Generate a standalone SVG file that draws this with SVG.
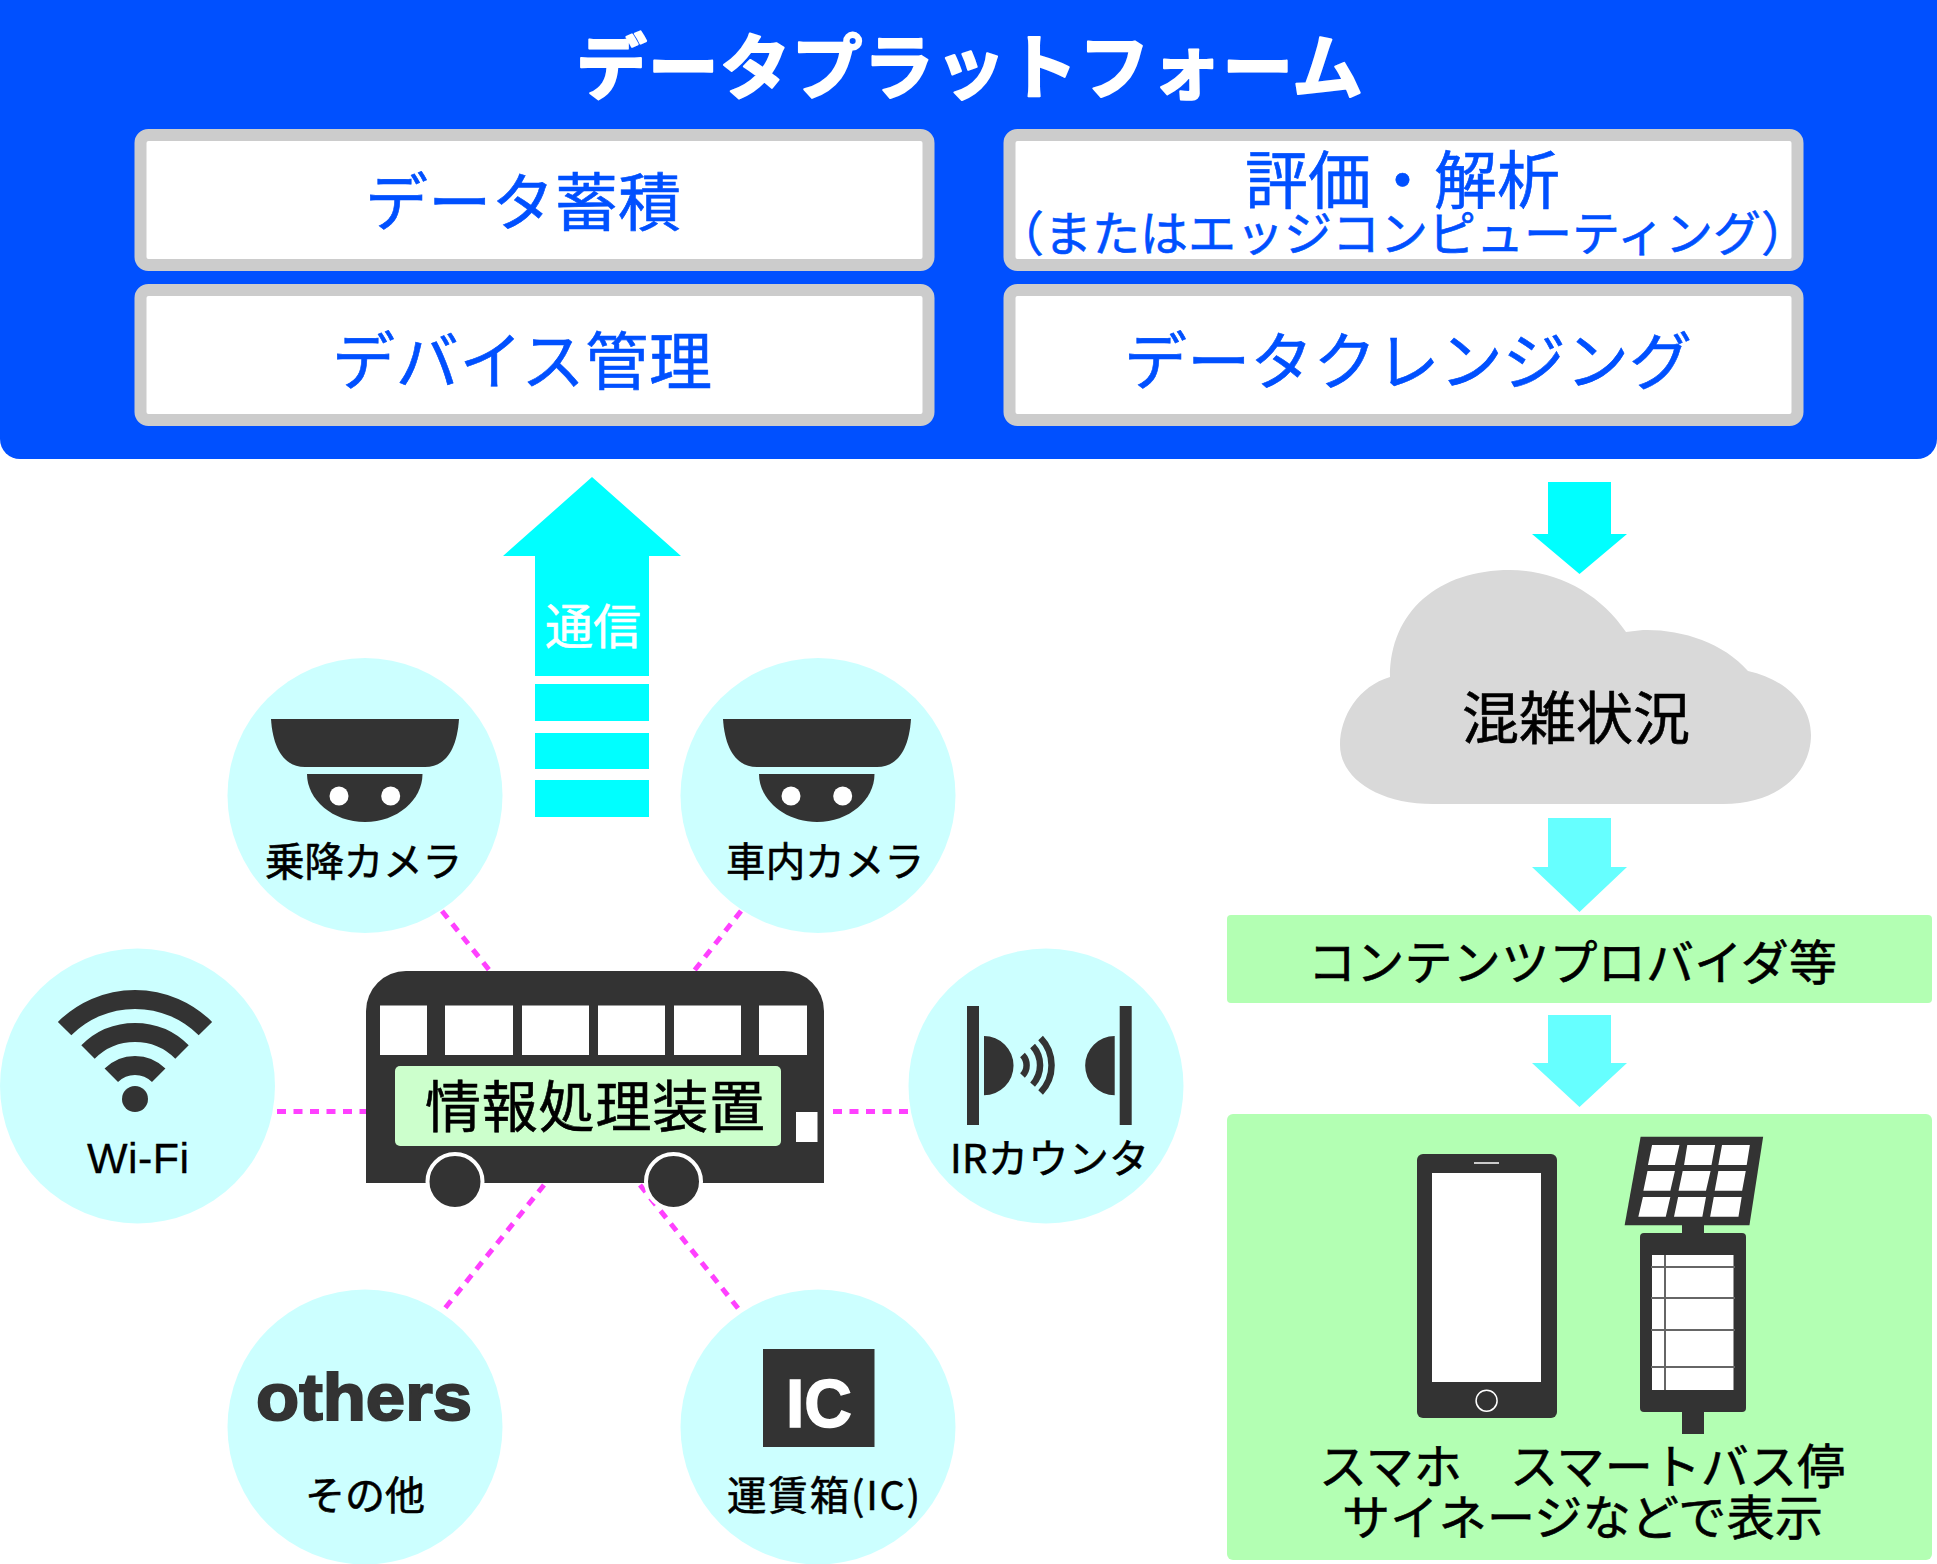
<svg xmlns="http://www.w3.org/2000/svg" width="1937" height="1564" viewBox="0 0 1937 1564">
<style>
text{font-family:"Noto Sans CJK JP","Noto Sans",sans-serif;fill:#000;stroke:#000;stroke-width:.6}
.t{fill:#0050ff;stroke:#0050ff}
.tw{fill:#fff;stroke:#fff}
.b{fill:#0050ff}.w{fill:#fff}.d{fill:#333}.c{fill:#cff}.g{fill:#b3ffb3}
.box{fill:#fff;stroke:#ccc;stroke-width:12}
.dash{stroke:#ff40ff;stroke-width:5;stroke-dasharray:9 7.500;fill:none}
.wave{fill:none;stroke:#333;stroke-linecap:butt}
.lat{font-family:"Liberation Sans",sans-serif;stroke-width:.3}
.gl{stroke:#666;stroke-width:2;fill:none}
</style>
<g id="connectors">
<path class="dash" d="M442 911L490 971"/>
<path class="dash" d="M741 911L694 971"/>
<path class="dash" d="M277 1111.500H366"/>
<path class="dash" d="M833 1111.500H910"/>
<path class="dash" d="M544 1185L442 1312"/>
<path class="dash" d="M640 1185L741 1312"/>
</g>
<g id="platform">
<path class="b" d="M0 0H1937V439A20 20 0 0 1 1917 459H20A20 20 0 0 1 0 439Z"/>
<text class="tw" x="576" y="93" font-size="71" font-weight="700" style="stroke-width:2;stroke-linejoin:round" textLength="787">データプラットフォーム</text>
</g>
<g id="n-store"><rect class="box" x="140.500" y="135" width="788" height="130" rx="8"/><text class="t" x="365" y="225" font-size="63" textLength="316">データ蓄積</text></g>
<g id="n-device"><rect class="box" x="140.500" y="290" width="788" height="130" rx="8"/><text class="t" x="332" y="384" font-size="63" textLength="380">デバイス管理</text></g>
<g id="n-eval"><rect class="box" x="1009.500" y="135" width="788" height="130" rx="8"/><text class="t" x="1245" y="203" font-size="63" textLength="315">評価・解析</text><text class="t" x="996" y="251" font-size="48" textLength="813">（またはエッジコンピューティング）</text></g>
<g id="n-clean"><rect class="box" x="1009.500" y="290" width="788" height="130" rx="8"/><text class="t" x="1124" y="384" font-size="63" textLength="568">データクレンジング</text></g>
<g id="n-comm">
<path fill="#0ff" d="M592 477L681 556H649V676H535V556H503Z"/>
<rect fill="#0ff" x="535" y="684" width="114" height="37"/><rect fill="#0ff" x="535" y="733" width="114" height="36"/><rect fill="#0ff" x="535" y="780" width="114" height="37"/>
<text class="tw" x="545" y="644" font-size="48" textLength="96">通信</text>
</g>
<g id="a1"><path fill="#0ff" d="M1548 482H1611V534H1627L1579.500 574L1532 534H1548Z"/></g>
<g id="n-cloud">
<path fill="#d9d9d9" d="M1433 804H1723C1779 804 1811 772 1811 735C1811 704 1785 679 1748 671C1723 642 1680 629 1643 630L1626 632C1600 593 1556 570 1510 570C1439 570 1390 611 1390 677C1359 686 1340 716 1340 745C1340 778 1378 804 1433 804Z"/>
<text x="1462" y="739" font-size="57" textLength="228">混雑状況</text>
</g>
<g id="a2"><path fill="#6ff" d="M1548 818H1611V867H1627L1579.500 912L1532 867H1548Z"/></g>
<g id="n-cp"><rect class="g" x="1227" y="915" width="705" height="88" rx="4"/><text x="1308" y="980" font-size="48" textLength="529">コンテンツプロバイダ等</text></g>
<g id="a3"><path fill="#6ff" d="M1548 1015H1611V1063H1627L1579.500 1107L1532 1063H1548Z"/></g>
<g id="n-display">
<rect class="g" x="1227" y="1114" width="705" height="446" rx="6"/>
<rect class="d" x="1417" y="1154" width="140" height="264" rx="6"/>
<rect class="w" x="1432" y="1173" width="109" height="209"/>
<path d="M1474 1163H1499" stroke="#fff" stroke-width="1.500"/>
<circle cx="1486.600" cy="1400.700" r="10.500" fill="none" stroke="#fff" stroke-width="1.500"/>
<g transform="translate(1220 1100) scale(.4572 .33333)">
<path class="d" d="M920 110H1188L1158 376H885Z"/>
<path class="w" d="M945 135H1005L995 195H936ZM1022 135H1083L1075 195H1015ZM1098 135H1159L1152 195H1090ZM935 213H995L985 272H926ZM1012 213H1073L1063 272H1003ZM1090 213H1150L1142 272H1082ZM925 291H985L975 350H915ZM1002 291H1063L1055 350H993ZM1080 291H1141L1134 350H1072Z"/>
</g>
<rect class="d" x="1682" y="1225" width="22" height="209"/>
<rect class="d" x="1640" y="1233" width="106" height="179" rx="4"/>
<rect class="w" x="1652" y="1255" width="81.500" height="135"/>
<path class="gl" d="M1651 1267H1735M1651 1298H1735M1651 1330H1735M1651 1367H1735M1665 1255V1390"/>
<text x="1319" y="1484" font-size="48" textLength="526">スマホ　スマートバス停</text>
<text x="1342" y="1535" font-size="48" textLength="481">サイネージなどで表示</text>
</g>
<g id="n-cam1">
<circle class="c" cx="365" cy="795.500" r="137.500"/>
<path class="d" d="M271 719H459C457 750 445 767 425 767H305C285 767 273 750 271 719Z"/>
<path class="d" d="M307 774H422.500C422.500 800 397 822 365 822C333 822 307 800 307 774Z"/>
<circle class="w" cx="339" cy="796" r="9.500"/><circle class="w" cx="390.700" cy="796" r="9.500"/>
<text x="265" y="876" font-size="39.500" textLength="197">乗降カメラ</text>
</g>
<g id="n-cam2">
<circle class="c" cx="818" cy="795.500" r="137.500"/>
<path class="d" d="M723 719H911C909 750 897 767 877 767H757C737 767 725 750 723 719Z"/>
<path class="d" d="M759 774H874.500C874.500 800 849 822 817 822C785 822 759 800 759 774Z"/>
<circle class="w" cx="791" cy="796" r="9.500"/><circle class="w" cx="842.700" cy="796" r="9.500"/>
<text x="726" y="876" font-size="39.500" textLength="198">車内カメラ</text>
</g>
<g id="n-wifi">
<circle class="c" cx="137.500" cy="1086" r="137.500"/>
<path class="wave" stroke-width="19" d="M64.600 1028.600A99.500 99.500 0 0 1 205.400 1028.600M88 1052A66.500 66.500 0 0 1 182 1052M111.300 1075.300A33.500 33.500 0 0 1 158.700 1075.300"/>
<circle class="d" cx="135" cy="1099" r="13"/>
<text class="lat" x="87" y="1173" font-size="43" textLength="102">Wi-Fi</text>
</g>
<g id="n-ir">
<circle class="c" cx="1046" cy="1086" r="137.500"/>
<rect class="d" x="967" y="1006" width="12" height="119"/><rect class="d" x="1119.700" y="1006" width="12" height="119"/>
<path class="d" d="M984 1036A29.600 29.600 0 0 1 984 1095.200ZM1114.700 1036A29.600 29.600 0 0 0 1114.700 1095.200Z"/>
<path class="wave" stroke-width="6.500" d="M1022.500 1055A15 15 0 0 1 1022.500 1075.600M1032.600 1046A28.700 28.700 0 0 1 1032.600 1084.600M1040.600 1038A39.500 39.500 0 0 1 1040.600 1092.600"/>
<text x="950" y="1173" font-size="40" textLength="199">IRカウンタ</text>
</g>
<g id="n-others">
<circle class="c" cx="365" cy="1427" r="137.500"/>
<text class="lat" x="256" y="1420" font-size="66" font-weight="700" style="fill:#333;stroke:#333;stroke-width:2" textLength="216" lengthAdjust="spacingAndGlyphs">others</text>
<text x="305" y="1510" font-size="40" textLength="120">その他</text>
</g>
<g id="n-ic">
<circle class="c" cx="818" cy="1427" r="137.500"/>
<rect class="d" x="763" y="1349" width="111.500" height="98"/>
<text class="lat" x="786" y="1427" font-size="68" font-weight="700" style="fill:#fff;stroke:#fff;stroke-width:1.500" textLength="66" lengthAdjust="spacingAndGlyphs">IC</text>
<text x="727" y="1510" font-size="39.500" textLength="193">運賃箱(IC)</text>
</g>
<g id="n-bus">
<path class="d" d="M366 1183V1011A40 40 0 0 1 406 971H784A40 40 0 0 1 824 1011V1183Z"/>
<path class="w" d="M380 1005.500H427V1055H380ZM445 1005.500H513V1055H445ZM522 1005.500H589V1055H522ZM598 1005.500H665V1055H598ZM674 1005.500H741V1055H674ZM759 1005.500H807V1055H759ZM796 1112H817.500V1142H796Z"/>
<rect fill="#cfc" x="395" y="1066" width="386" height="80" rx="5"/>
<circle class="d" cx="455" cy="1181.500" r="27.500" stroke="#fff" stroke-width="4"/>
<circle class="d" cx="673.500" cy="1181.500" r="27.500" stroke="#fff" stroke-width="4"/>
<text x="425" y="1127" font-size="56" textLength="340">情報処理装置</text>
</g>
</svg>
